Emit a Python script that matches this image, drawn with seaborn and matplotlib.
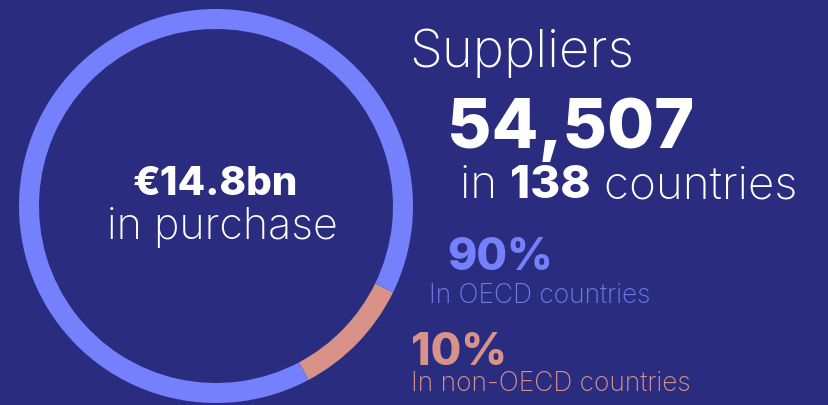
import matplotlib.pyplot as plt
import seaborn as sns

segment_names = ['non-OECD', 'OECD']
segment_shares = [10, 90]
segment_colors = ['#D99288', '#7480FC']

total_purchase = '€14.8bn'
supplier_count = '54,507'
country_count = '138'
oecd_pct = '90%'
non_oecd_pct = '10%'

BG = '#2A2D7F'
W, H = 829, 405

sns.set_theme(style='white')
plt.rcParams['font.family'] = ['Inter', 'DejaVu Sans']

fig = plt.figure(figsize=(W / 100, H / 100), dpi=100, facecolor=BG)


def px(x, y):
    # pixel coords (top-left origin) -> figure fraction
    return x / W, 1 - y / H


# ring
cx, cy, r = 216, 206, 197
ax = fig.add_axes([(cx - r) / W, (H - cy - r) / H, 2 * r / W, 2 * r / H])
ax.set_facecolor(BG)
ax.pie(segment_shares, colors=segment_colors, startangle=-62, counterclock=True,
       radius=1, wedgeprops=dict(width=20 / r, linewidth=0))
ax.set_xlim(-1, 1)
ax.set_ylim(-1, 1)
ax.axis('off')

# centre text
fig.text(*px(216, 195), total_purchase, color='white', fontsize=29,
         fontweight='heavy', ha='center', va='baseline')
fig.text(*px(222, 239), 'in purchase', color='white', fontsize=31,
         fontweight='light', ha='center', va='baseline')

# right side
fig.text(*px(409, 67), 'Suppliers', color='white', fontsize=38,
         fontweight='light', ha='left', va='baseline')
fig.text(*px(447, 148), supplier_count, color='white', fontsize=49,
         fontweight='heavy', ha='left', va='baseline')
t = fig.text(*px(460, 198), 'in ', color='white', fontsize=33,
             fontweight='light', ha='left', va='baseline')
fig.canvas.draw()
bb = t.get_window_extent()
t2 = fig.text(bb.x1 / W, 1 - 198 / H, country_count, color='white', fontsize=33,
              fontweight='heavy', ha='left', va='baseline')
bb2 = t2.get_window_extent(renderer=fig.canvas.get_renderer())
fig.text(bb2.x1 / W, 1 - 198 / H, ' countries', color='white', fontsize=33,
         fontweight='light', ha='left', va='baseline')

fig.text(*px(447, 270), oecd_pct, color=segment_colors[1], fontsize=32,
         fontweight='heavy', ha='left', va='baseline')
fig.text(*px(429, 303), 'In OECD countries', color='#7479E6', fontsize=19,
         fontweight='light', ha='left', va='baseline')
fig.text(*px(411, 365), non_oecd_pct, color=segment_colors[0], fontsize=32,
         fontweight='heavy', ha='left', va='baseline')
fig.text(*px(411, 391), 'In non-OECD countries', color=segment_colors[0], fontsize=19,
         fontweight='light', ha='left', va='baseline')

fig.savefig('out.png', dpi=100, facecolor=BG)
